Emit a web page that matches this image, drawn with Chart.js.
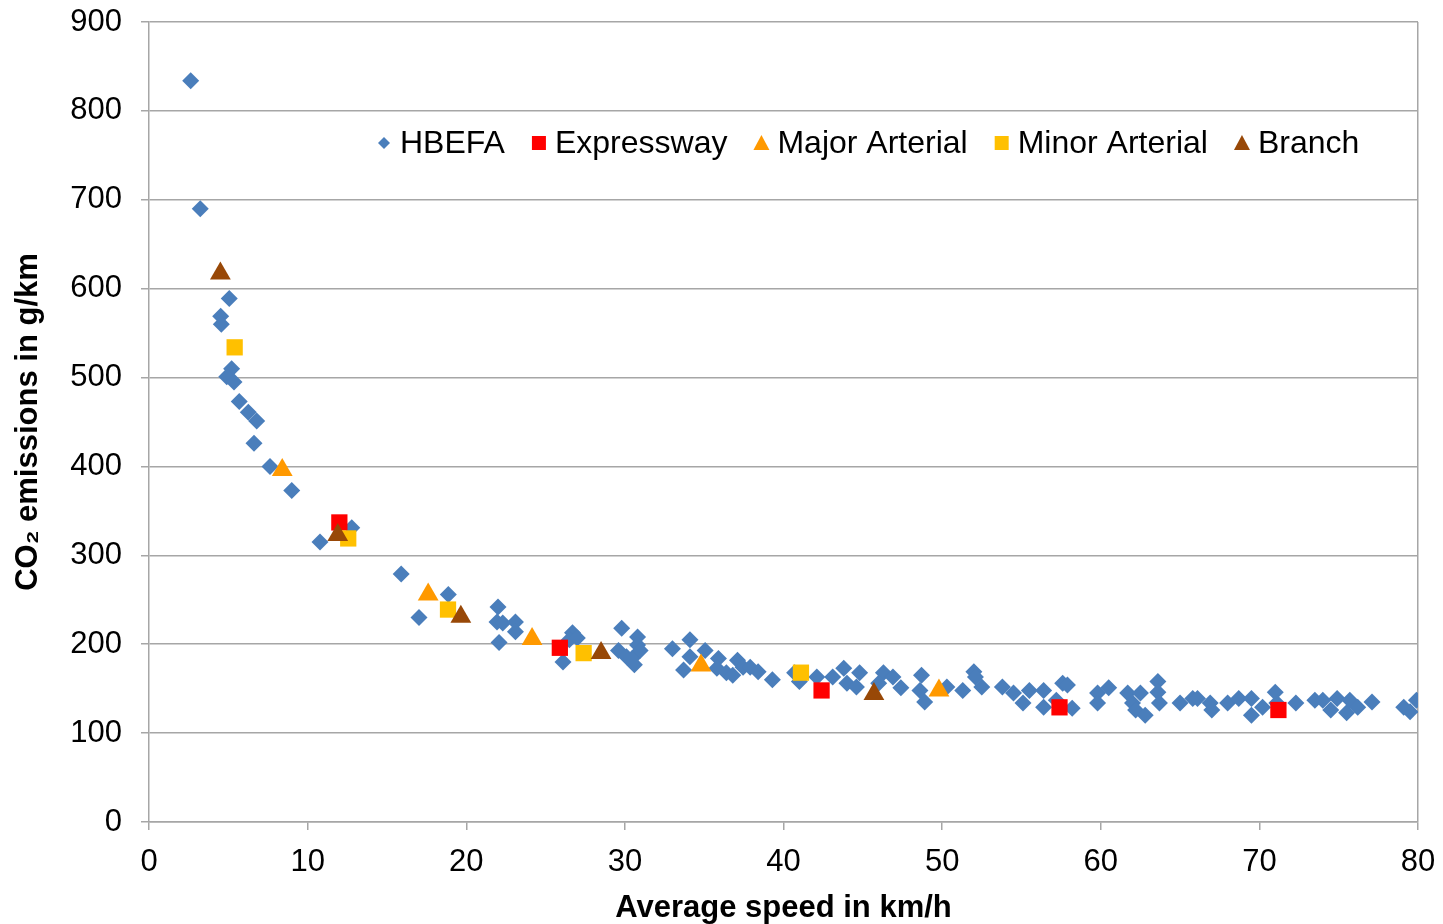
<!DOCTYPE html>
<html>
<head>
<meta charset="utf-8">
<script src="https://cdn.jsdelivr.net/npm/chart.js@4/dist/chart.umd.min.js"></script>
<style>
  html, body { margin: 0; padding: 0; background: #ffffff; }
  #wrap { position: relative; width: 1443px; height: 924px; }
</style>
</head>
<body>
<div id="wrap"><canvas id="c"></canvas></div>
<script>
// ---- Data ----
const hbefaSpeed = [2.63,3.23,5.06,4.52,4.56,5.21,4.9,5.36,5.69,6.26,6.79,6.62,7.63,9.0,10.78,12.78,15.9,17.02,18.87,
  22.0,21.94,22.3,23.1,23.1,22.07,26.7,26.5,27.0,26.1,29.8,29.6,30.8,30.8,30.1,30.6,30.45,30.96,33.0,34.1,33.7,34.1,35.06,35.9,35.8,36.4,37.1,36.8,37.45,
  37.9,38.4,39.3,40.7,41.0,42.1,43.1,43.8,44.0,44.6,44.8,46.3,46.0,46.9,47.4,48.7,48.9,48.6,50.3,52.0,52.1,51.3,52.5,53.8,54.5,55.1,55.5,56.4,56.4,57.6,57.2,
  57.9,58.2,59.8,60.5,59.8,61.7,62.5,62.0,62.2,62.8,63.6,63.6,63.7,65.0,65.8,66.1,66.9,67.0,68.0,68.7,69.5,69.5,70.2,71.0,71.1,72.3,73.5,74.0,74.5,74.9,75.5,75.7,76.2,77.1,79.1,79.5,79.9];
const hbefaCO2 = [834,690,589,569,560,510,501,495,473,461,451,426,400,373,315,331,279,230,256,
  242,225,224,225,214,202,213,205,207,180,218,193,208,199,186,177,184,193,195,205,171,186,193,184,173,168,182,165,174,
  174,169,160,168,158,163,163,173,156,152,168,168,156,163,151,165,135,148,152,169,163,148,152,152,145,134,148,148,129,156,137,
  154,128,145,151,134,145,145,134,126,120,158,146,134,134,139,139,134,126,134,139,139,120,129,146,134,134,137,137,126,139,123,137,129,135,129,124,137];

const expresswaySpeed = [12.0, 25.9, 42.4, 57.4, 71.2];
const expresswayCO2   = [337, 196, 148, 129, 126];

const majorSpeed = [8.4, 17.6, 24.15, 34.8, 49.8];
const majorCO2   = [396, 256, 206, 176, 148];

const minorSpeed = [5.4, 12.56, 18.85, 27.4, 41.1];
const minorCO2   = [534, 319, 239, 190, 168];

const branchSpeed = [4.5, 11.9, 19.66, 28.5, 45.7];
const branchCO2   = [617, 323, 231, 190, 144];

const seriesNames = ['HBEFA', 'Expressway', 'Major Arterial', 'Minor Arterial', 'Branch'];
const xTickValues = [0, 10, 20, 30, 40, 50, 60, 70, 80];
const yTickValues = [0, 100, 200, 300, 400, 500, 600, 700, 800, 900];
const xTitle = 'Average speed in km/h';
const yTitle = 'CO\u2082 emissions in g/km';

// ---- helpers ----
function pts(xs, ys) { return xs.map((x, i) => ({ x: x, y: ys[i] })); }
function zeroPad(scale) {
  scale.paddingTop = 0; scale.paddingBottom = 0;
  scale.paddingLeft = 0; scale.paddingRight = 0;
}

const FONT = '"Liberation Sans", Arial, Helvetica, sans-serif';
const GRID = '#a6a6a6';

const colors = ['#4A7EBB', '#FF0000', '#FF9900', '#FFC000', '#984807'];
const styles = ['rectRot', 'rect', 'triangle', 'rect', 'triangle'];
const radii  = [8.5, 11.5, 12, 11.5, 12];
const orders = [5, 4, 3, 2, 1];
const dataPairs = [
  [hbefaSpeed, hbefaCO2],
  [expresswaySpeed, expresswayCO2],
  [majorSpeed, majorCO2],
  [minorSpeed, minorCO2],
  [branchSpeed, branchCO2]
];

const datasets = seriesNames.map((name, i) => ({
  label: name,
  data: pts(dataPairs[i][0], dataPairs[i][1]),
  pointStyle: styles[i],
  pointRadius: radii[i],
  pointHoverRadius: radii[i],
  backgroundColor: colors[i],
  borderColor: colors[i],
  pointBorderWidth: 0,
  borderWidth: 0,
  showLine: false,
  order: orders[i]
}));

// custom in-plot legend (drawn on the canvas, like the original)
const inPlotLegend = {
  id: 'inPlotLegend',
  afterDraw(chart) {
    const ctx = chart.ctx;
    ctx.save();
    ctx.font = '32px ' + FONT;
    ctx.textBaseline = 'middle';
    ctx.textAlign = 'left';
    const y = 143;
    let x = 384;
    chart.data.datasets.forEach((ds) => {
      ctx.fillStyle = ds.backgroundColor;
      ctx.beginPath();
      if (ds.pointStyle === 'rectRot') {
        ctx.moveTo(x - 6, y); ctx.lineTo(x, y - 6); ctx.lineTo(x + 6, y); ctx.lineTo(x, y + 6);
      } else if (ds.pointStyle === 'rect') {
        ctx.rect(x - 7, y - 7, 14, 14);
      } else {
        ctx.moveTo(x, y - 8); ctx.lineTo(x + 8, y + 7); ctx.lineTo(x - 8, y + 7);
      }
      ctx.closePath();
      ctx.fill();
      ctx.fillStyle = '#000000';
      ctx.fillText(ds.label, x + 16, y + 1);
      x = x + 16 + ctx.measureText(ds.label).width + 34;
    });
    ctx.restore();
  }
};

new Chart(document.getElementById('c'), {
  type: 'scatter',
  data: { datasets: datasets },
  options: {
    responsive: true,
    maintainAspectRatio: false,
    animation: false,
    layout: { padding: { top: 22, right: 25, left: 0, bottom: 0 } },
    plugins: {
      legend: { display: false },
      tooltip: { enabled: false },
      title: { display: false }
    },
    scales: {
      x: {
        type: 'linear',
        min: 0, max: 80,
        afterBuildTicks: (scale) => { scale.ticks = xTickValues.map(v => ({ value: v })); },
        afterFit: (scale) => { scale.height = 102; zeroPad(scale); },
        ticks: { color: '#000000', font: { family: FONT, size: 31 }, padding: 14, maxRotation: 0 },
        grid: {
          color: (c) => (c.tick && c.tick.value === 80) ? GRID : 'rgba(0,0,0,0)',
          tickColor: GRID,
          tickLength: 8,
          lineWidth: 1.5
        },
        border: { display: true, color: GRID, width: 1.5 },
        title: { display: true, text: xTitle, color: '#000000', font: { family: FONT, size: 31, weight: 'bold', lineHeight: 1.0 }, padding: { top: 0, bottom: 0 } }
      },
      y: {
        type: 'linear',
        min: 0, max: 900,
        afterBuildTicks: (scale) => { scale.ticks = yTickValues.map(v => ({ value: v })); },
        afterFit: (scale) => { scale.width = 149; zeroPad(scale); },
        ticks: { color: '#000000', font: { family: FONT, size: 31 }, padding: 19 },
        grid: { color: GRID, tickColor: GRID, tickLength: 8, lineWidth: 1.5 },
        border: { display: true, color: GRID, width: 1.5 },
        title: { display: true, text: yTitle, color: '#000000', font: { family: FONT, size: 31, weight: 'bold' }, padding: { top: 10, bottom: 0 } }
      }
    }
  },
  plugins: [inPlotLegend]
});
</script>
</body>
</html>
